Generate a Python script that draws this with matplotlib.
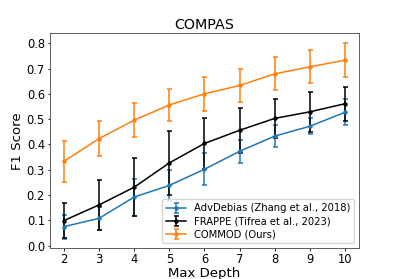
import matplotlib
matplotlib.use("Agg")
import matplotlib.pyplot as plt

depths = [2, 3, 4, 5, 6, 7, 8, 9, 10]
adv_mean = [0.075, 0.108, 0.192, 0.238, 0.302, 0.373, 0.433, 0.472, 0.527]
adv_err = [0.047, 0.046, 0.073, 0.060, 0.063, 0.045, 0.042, 0.032, 0.051]
frappe_mean = [0.099, 0.161, 0.231, 0.327, 0.404, 0.456, 0.503, 0.529, 0.561]
frappe_err = [0.068, 0.098, 0.114, 0.125, 0.100, 0.089, 0.078, 0.078, 0.068]
commod_mean = [0.333, 0.423, 0.496, 0.556, 0.600, 0.633, 0.679, 0.707, 0.733]
commod_err = [0.080, 0.070, 0.068, 0.064, 0.066, 0.066, 0.065, 0.066, 0.067]

fig = plt.figure(figsize=(3.99, 2.79), dpi=100)
ax = fig.add_axes([0.125, 0.11, 0.775, 0.77])

kw = dict(marker='o', markersize=2.2, capsize=1.8, lw=1.1, elinewidth=1.1, capthick=1.1)
ax.errorbar(depths, adv_mean, yerr=adv_err, color='tab:blue',
            label='AdvDebias (Zhang et al., 2018)', **kw)
ax.errorbar(depths, frappe_mean, yerr=frappe_err, color='black',
            label='FRAPPE (Tifrea et al., 2023)', **kw)
ax.errorbar(depths, commod_mean, yerr=commod_err, color='tab:orange',
            label='COMMOD (Ours)', **kw)

for s in ax.spines.values():
    s.set_linewidth(0.6)
    s.set_color('#444444')

ax.set_xticks(depths)
ax.set_yticks([0.0, 0.1, 0.2, 0.3, 0.4, 0.5, 0.6, 0.7, 0.8])
ax.tick_params(labelsize=8.3, length=1.8, width=0.6, pad=1.8)
ax.set_xlabel('Max Depth', fontsize=9.5, labelpad=0.5)
ax.set_ylabel('F1 Score', fontsize=9.5, labelpad=2)
ax.set_title('COMPAS', fontsize=10.3, pad=3)
ax.legend(loc='lower right', fontsize=7.2, handlelength=2.0, borderpad=0.4,
          labelspacing=0.3, handletextpad=0.8)

fig.savefig('out.png', dpi=100)
